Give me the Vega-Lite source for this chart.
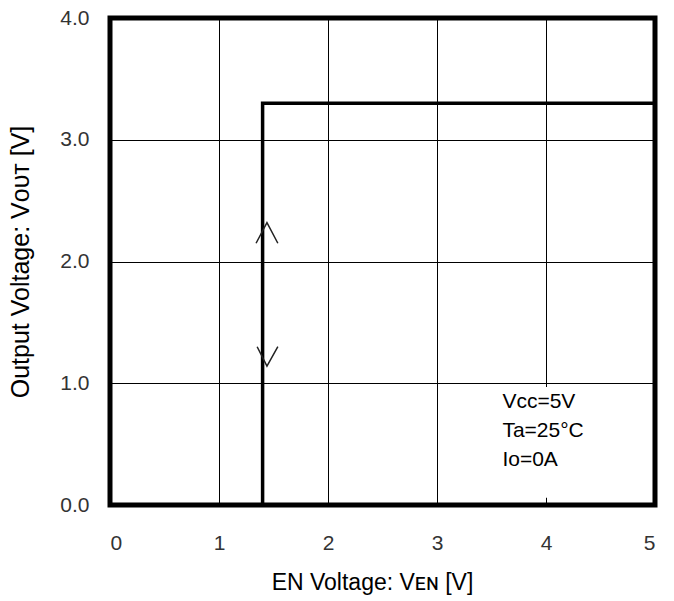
{
  "$schema": "https://vega.github.io/schema/vega-lite/v6.json",
  "width": 545,
  "height": 487,
  "autosize": {"type": "none"},
  "padding": {"left": 110, "top": 18, "right": 19, "bottom": 96},
  "background": "white",
  "config": {
    "view": {"stroke": "black", "strokeWidth": 5},
    "axis": {
      "grid": true, "gridColor": "black", "gridOpacity": 1, "gridWidth": 1,
      "domain": false, "ticks": false,
      "labelFont": "Liberation Sans", "labelFontSize": 21, "labelColor": "#333333",
      "titleFont": "Liberation Sans", "titleFontWeight": "normal", "titleColor": "black"
    }
  },
  "datasets": {
    "curve": [
      {"x": 1.4, "y": 0, "o": 1},
      {"x": 1.4, "y": 3.3, "o": 2},
      {"x": 5, "y": 3.3, "o": 3}
    ],
    "arrows": [
      {"s": "up", "x": 1.34, "y": 2.15, "o": 1},
      {"s": "up", "x": 1.44, "y": 2.32, "o": 2},
      {"s": "up", "x": 1.54, "y": 2.15, "o": 3},
      {"s": "down", "x": 1.35, "y": 1.30, "o": 1},
      {"s": "down", "x": 1.44, "y": 1.14, "o": 2},
      {"s": "down", "x": 1.54, "y": 1.30, "o": 3}
    ],
    "box": [{"x": 3.5, "x2": 4.85, "y": 0.06, "y2": 0.97}],
    "notes": [
      {"x": 3.6, "y": 0.85, "t": "Vᴄᴄ=5V"},
      {"x": 3.6, "y": 0.61, "t": "Ta=25°C"},
      {"x": 3.6, "y": 0.37, "t": "Iᴏ=0A"}
    ]
  },
  "layer": [
    {
      "data": {"name": "box"},
      "mark": {"type": "rect", "fill": "white", "stroke": null},
      "encoding": {
        "x": {"field": "x", "type": "quantitative", "scale": {"domain": [0, 5]},
              "axis": {"values": [0, 1, 2, 3, 4, 5], "format": "d", "labelPadding": 27,
                       "title": "EN Voltage: Vᴇɴ [V]", "titleFontSize": 23, "titlePadding": 18, "titleX": 262}},
        "x2": {"field": "x2"},
        "y": {"field": "y", "type": "quantitative", "scale": {"domain": [0, 4]},
              "axis": {"values": [0, 1, 2, 3, 4], "format": ".1f", "labelPadding": 21,
                       "title": "Output Voltage: Vᴏᴜᴛ [V]", "titleFontSize": 25, "titlePadding": 26}},
        "y2": {"field": "y2"}
      }
    },
    {
      "data": {"name": "curve"},
      "mark": {"type": "line", "color": "black", "strokeWidth": 3.5, "strokeJoin": "miter", "strokeCap": "butt"},
      "encoding": {
        "x": {"field": "x", "type": "quantitative"},
        "y": {"field": "y", "type": "quantitative"},
        "order": {"field": "o"}
      }
    },
    {
      "data": {"name": "arrows"},
      "mark": {"type": "line", "color": "#222222", "strokeWidth": 1.5},
      "encoding": {
        "x": {"field": "x", "type": "quantitative"},
        "y": {"field": "y", "type": "quantitative"},
        "detail": {"field": "s"},
        "order": {"field": "o"}
      }
    },
    {
      "data": {"name": "notes"},
      "mark": {"type": "text", "align": "left", "baseline": "middle", "font": "Liberation Sans", "fontSize": 21, "color": "black"},
      "encoding": {
        "x": {"field": "x", "type": "quantitative"},
        "y": {"field": "y", "type": "quantitative"},
        "text": {"field": "t"}
      }
    }
  ]
}
